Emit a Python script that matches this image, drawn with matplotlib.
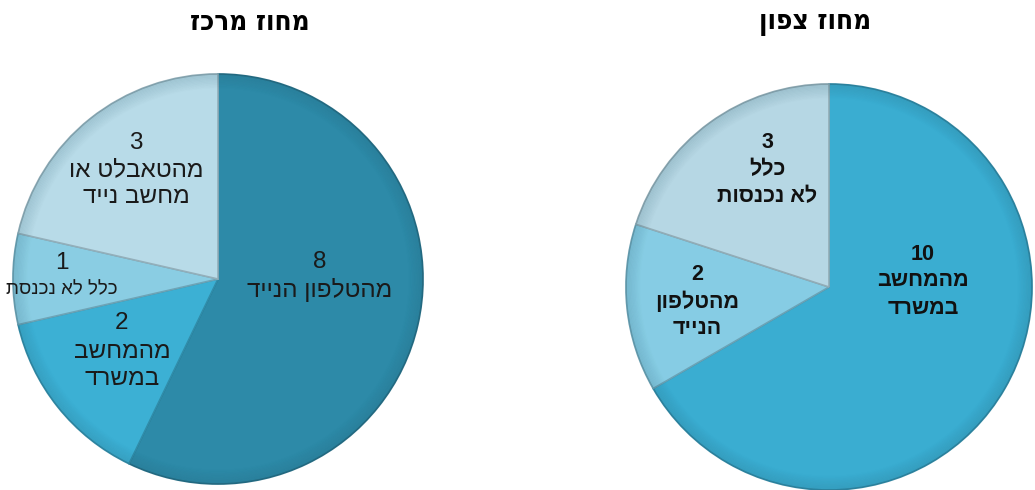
import numpy as np
import matplotlib.pyplot as plt
from matplotlib import font_manager

# נתונים - מחוז מרכז
center_values = [8, 2, 1, 3]
center_nums = ['8', '2', '1', '3']
center_labels = [['מהטלפון הנייד'], ['מהמחשב', 'במשרד'], ['כלל לא נכנסת'], ['מהטאבלט או', 'מחשב נייד']]
center_colors = ['#2d8aa8', '#3cb0d4', '#8acde3', '#b8dbe8']

# נתונים - מחוז צפון
north_values = [10, 2, 3]
north_nums = ['10', '2', '3']
north_labels = [['מהמחשב', 'במשרד'], ['מהטלפון', 'הנייד'], ['כלל', 'לא נכנסות']]
north_colors = ['#3aadd1', '#86cce4', '#b6d7e4']

titles = ['מחוז מרכז', 'מחוז צפון']


def rtl(s):
    """matplotlib לא מטפל בכיוון ימין-לשמאל, הופכים ידנית"""
    return s[::-1]


def darker(c, f=0.75):
    r, g, b = plt.matplotlib.colors.to_rgb(c)
    return (r * f, g * f, b * f)


plt.rcParams['font.family'] = ['Liberation Sans', 'DejaVu Sans']

W, H = 1035, 490
fig = plt.figure(figsize=(W / 100, H / 100), dpi=100)
ax = fig.add_axes([0, 0, 1, 1])


def draw_pie(values, colors, cx, cy, r):
    wedges, _ = ax.pie(values, colors=colors, startangle=90, counterclock=False,
                       center=(cx, cy), radius=r, frame=True,
                       wedgeprops=dict(linewidth=1.2))
    for w, c in zip(wedges, colors):
        w.set_edgecolor(darker(c, 0.8))
    # הצללה עדינה בשוליים
    for k in range(12):
        rr = r * (1 - k * 0.006)
        ring = plt.Circle((cx, cy), rr, fill=False, lw=1.5,
                          color='#1d4f60', alpha=0.10 * (1 - k / 12))
        ax.add_patch(ring)
    return wedges


lw = draw_pie(center_values, center_colors, 218, H - 279, 205)
rw = draw_pie(north_values, north_colors, 829, H - 287, 203)
ax.set_xlim(0, W)
ax.set_ylim(0, H)
ax.set_aspect('equal')
ax.axis('off')

# מיקומי תוויות (פיקסלים מלמעלה)
center_pos = [(320, 262, 290), (122, 323, 352), (62, 263, 290), (136, 143, 170)]
center_size = [17.5, 17.5, 13.5, 17.5]
north_pos = [(923, 255, 281), (697, 274, 302), (767, 143, 170)]

for i, (x, y0, y1) in enumerate(center_pos):
    ax.text(x, H - y0, center_nums[i], ha='center', va='center',
            fontsize=17.5, color='#1a1a1a')
    for j, line in enumerate(center_labels[i]):
        t = ax.text(x, H - (y1 + j * 27), rtl(line), ha='center', va='center',
                    fontsize=center_size[i], color='#1a1a1a')
        t.set_clip_path(lw[i])

for i, (x, y0, y1) in enumerate(north_pos):
    ax.text(x, H - y0, north_nums[i], ha='center', va='center',
            fontsize=15.5, fontweight='bold', color='#111111')
    for j, line in enumerate(north_labels[i]):
        ax.text(x, H - (y1 + j * 27), rtl(line), ha='center', va='center',
                fontsize=15.5, fontweight='bold', color='#111111')

ax.text(250, H - 22, rtl(titles[0]), ha='center', va='center', fontsize=20,
        fontweight='bold', fontstretch='condensed', family=['DejaVu Sans'])
ax.text(815, H - 22, rtl(titles[1]), ha='center', va='center', fontsize=20,
        fontweight='bold', fontstretch='condensed', family=['DejaVu Sans'])

fig.savefig('out.png', dpi=100)
